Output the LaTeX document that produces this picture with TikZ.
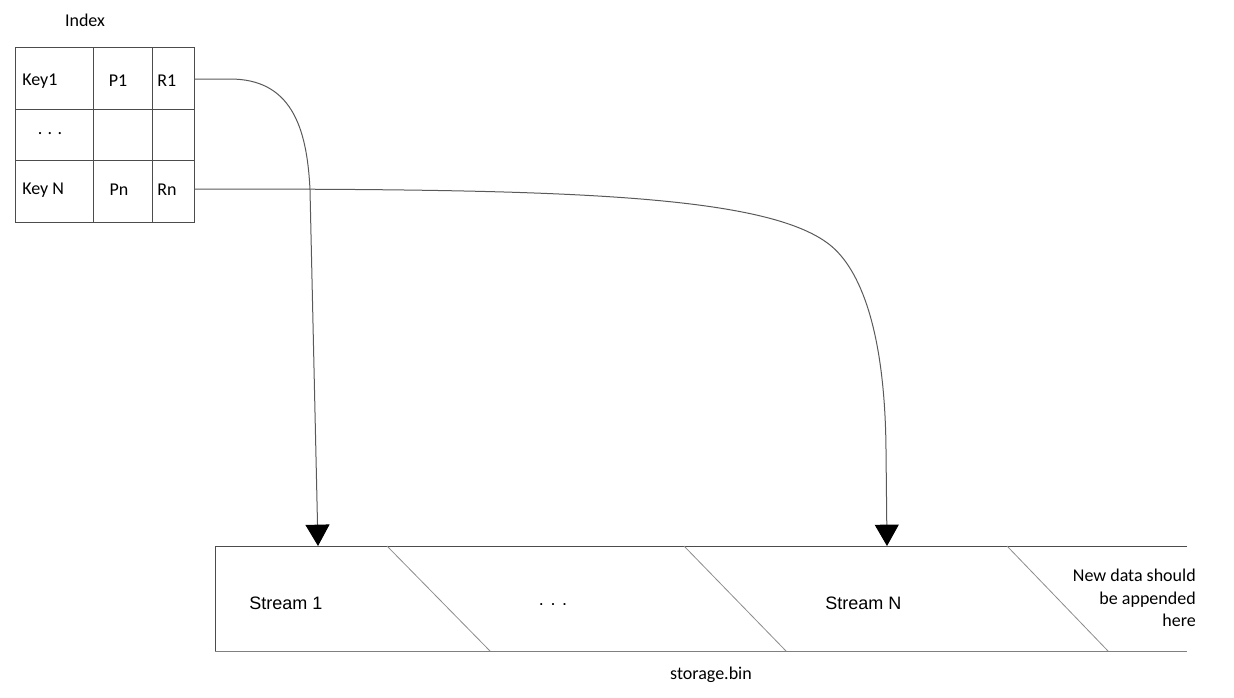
\documentclass[tikz,border=0pt]{standalone}
\usepackage{fontspec}
\setmainfont{Carlito}
\newfontfamily\arialf{Liberation Sans}
\usetikzlibrary{arrows.meta}
\begin{document}
\begin{tikzpicture}[x=0.75pt,y=-0.75pt,
  grid/.style={draw=black!70,line width=0.75pt},
  txt/.style={inner sep=0pt,font=\fontsize{13.5}{17}\selectfont},
  atxt/.style={inner sep=0pt,font=\arialf\fontsize{13.5}{17}\selectfont},
  cell/.style={inner sep=0pt},
  link/.style={draw=black!65,line width=0.75pt,-{Triangle[width=18pt,length=16pt,black]}},
  barline/.style={draw=black!70,line width=0.75pt},
  diag/.style={draw=black!45,line width=0.6pt}]
\useasboundingbox (0,0) rectangle (1234,697);
% index table
\draw[grid] (15,47) rectangle (194,222);
\draw[grid] (15,109) -- (194,109) (15,160) -- (194,160);
\draw[grid] (93,47) -- (93,222) (152,47) -- (152,222);
\node[txt] (idx) at (85,20) {Index};
\node[txt,anchor=west] (k1) at (22,81) {Key1};
\node[txt] (p1) at (118,81) {P1};
\node[txt,anchor=west] (r1t) at (157,81) {R1};
\node[txt] (dots1) at (50,134) {. . .};
\node[txt,anchor=west] (kn) at (22,190) {Key N};
\node[txt] (pn) at (119,190) {Pn};
\node[txt,anchor=west] (rnt) at (157,190) {Rn};
\node[cell,minimum width=31.5pt,minimum height=46.5pt] (r1) at (173,78) {};
\node[cell,minimum width=31.5pt,minimum height=46.5pt] (rn) at (173,190) {};
% storage bar
\draw[barline] (1187,546) -- (215,546) -- (215,651);
\draw[draw=black!50,line width=0.75pt] (215,651) -- (1187,651);
\draw[diag] (387,546) -- (490,651);
\draw[diag] (684,546) -- (786,651);
\draw[diag] (1007,546) -- (1108,651);
\coordinate (s1) at (318,546);
\coordinate (sn) at (887,546);
\node[atxt,anchor=west] (st1) at (249,603) {Stream 1};
\node[atxt] (dots2) at (553,605) {. . .};
\node[atxt,anchor=west] (stn) at (825,603) {Stream N};
\node[txt,align=right,anchor=east] (newd) at (1196,598) {New data should\\be appended\\here};
\node[txt] (sbin) at (711,675) {storage.bin};
% connectors
\draw[link] (r1.east |- 0,79) -- (230,79) .. controls (290,79) and (307,125) .. (310,190) -- (s1);
\draw[link] (rn.east |- 0,189) .. controls (550,189) and (765,193) .. (830,245)
  .. controls (860,269) and (885,330) .. (886,450) -- (sn);
\end{tikzpicture}
\end{document}
